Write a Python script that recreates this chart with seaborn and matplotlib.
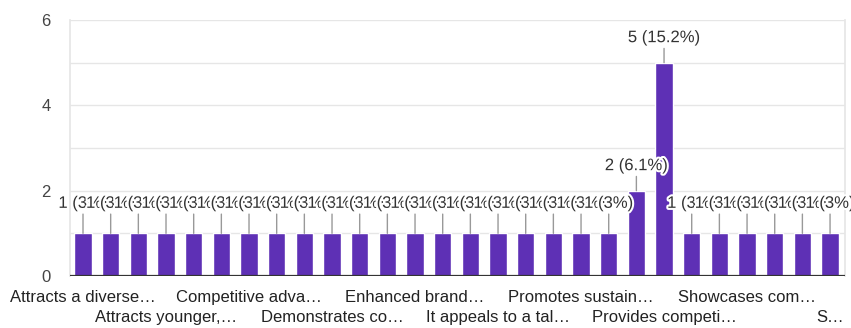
import matplotlib
matplotlib.use("Agg")
import matplotlib.pyplot as plt
import matplotlib.patheffects as pe
import seaborn as sns

categories = [
    "Attracts a diverse workforce", "Attracts global talent", "Attracts skilled professionals",
    "Attracts younger, eco-minded talent", "Boosts employee morale", "Builds trust",
    "Competitive advantage", "Creates a positive image", "Credibility with employees",
    "Demonstrates commitment", "Differentiates the employer", "Drives innovation",
    "Enhanced brand reputation", "Enhances engagement", "Improves retention",
    "It appeals to a talent pool", "Long-term value", "Positive culture",
    "Promotes sustainability", "Promotes transparency", "Provides a clear purpose",
    "Provides competitive edge", "Reflects company values", "Reputation boost",
    "Showcases commitment", "Shows responsibility", "Social impact", "Stronger employer brand",
]
counts = [1] * 20 + [2, 5] + [1] * 6
tick_labels = [
    "Attracts a diverse\u2026", "Attracts younger,\u2026", "Competitive adva\u2026",
    "Demonstrates co\u2026", "Enhanced brand\u2026", "It appeals to a tal\u2026",
    "Promotes sustain\u2026", "Provides competi\u2026", "Showcases com\u2026", "S\u2026",
]

sns.set_theme(style="white")
plt.rcParams["font.family"] = ["Liberation Sans", "DejaVu Sans"]

fig = plt.figure(figsize=(8.51, 3.28), dpi=100)
ax = fig.add_axes([70 / 851, 1 - 276 / 328, 775 / 851, 256 / 328])

sns.barplot(x=categories, y=counts, color="#5e30b5", saturation=1, width=0.62, ax=ax, zorder=3)

ax.set_ylim(0, 6)
ax.set_xlim(-0.47, len(categories) - 0.46)
ax.set_yticks([0, 2, 4, 6])
for yv in range(1, 7):
    ax.axhline(yv, color="#e6e6e6", lw=1, zorder=0)
ax.axhline(0, color="#333333", lw=1.6, zorder=4)
ax.spines["top"].set_visible(False)
ax.spines["bottom"].set_visible(False)
ax.spines["left"].set_color("#e6e6e6")
ax.spines["right"].set_color("#e6e6e6")
ax.tick_params(axis="y", length=0, pad=14, labelsize=12, labelcolor="#444444")

positions = list(range(0, len(categories), 3))
labels = []
for k, t in enumerate(tick_labels):
    labels.append(t if k % 2 == 0 else "\n" + t)
ax.set_xticks(positions)
ax.set_xticklabels(labels, fontsize=12, color="#222222", linespacing=1.45)
ax.tick_params(axis="x", length=0, pad=10)
ax.set_xlabel("")
ax.set_ylabel("")

total = sum(counts)
for i, c in enumerate(counts):
    pct = round(c / total * 100, 1)
    ptxt = f"{int(pct)}%" if pct == int(pct) else f"{pct}%"
    off = 21.6 if c == 1 else 18
    ax.annotate(f"{c} ({ptxt})", xy=(i, c), xytext=(0, off), textcoords="offset points",
                ha="center", va="center", fontsize=12, color="#333333", zorder=5,
                path_effects=[pe.withStroke(linewidth=3, foreground="white")],
                arrowprops=dict(arrowstyle="-", color="#999999", lw=1, shrinkA=0, shrinkB=0))

fig.savefig("out.png", dpi=100)
